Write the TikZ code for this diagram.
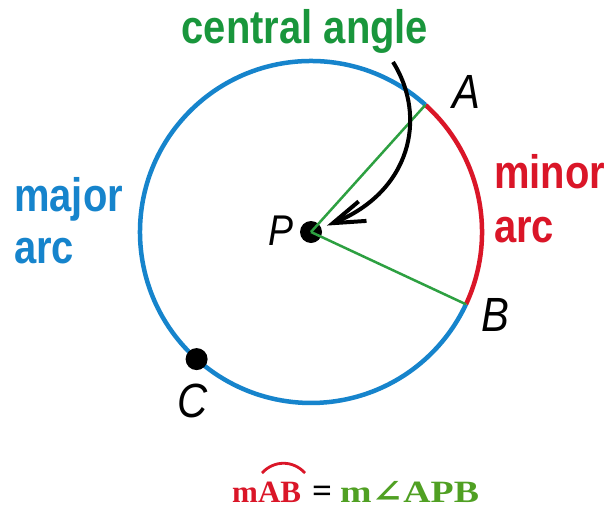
\documentclass[tikz,border=0pt]{standalone}
\usepackage{fontspec}
\usetikzlibrary{arrows.meta}
\newfontfamily\lblfont{Liberation Sans}[FakeStretch=0.85]
\newfontfamily\ptfont{Liberation Sans}[FakeStretch=0.87]
\newfontfamily\eqfont{Liberation Serif}
\newfontfamily\angfont{DejaVu Serif}
\definecolor{cblue}{RGB}{22,132,204}
\definecolor{cred}{RGB}{218,22,40}
\definecolor{cgreen}{RGB}{25,150,60}
\definecolor{lgreen}{RGB}{45,160,65}
\definecolor{egreen}{RGB}{80,160,35}
\tikzset{
  arcline/.style={line width=4.5pt},
  radius line/.style={draw=lgreen, line width=2.5pt},
  dotnode/.style={circle, fill=black, minimum size=22pt, inner sep=0pt},
  word/.style={font=\lblfont\bfseries\fontsize{47}{52}\selectfont, inner sep=0pt, anchor=base west},
  ptlabel/.style={font=\ptfont\itshape\fontsize{48}{52}\selectfont, inner sep=0pt, anchor=base},
  eq/.style={font=\eqfont\bfseries\fontsize{31}{34}\selectfont, inner sep=0pt, anchor=base west}
}
\begin{document}
\begin{tikzpicture}[x=1pt,y=-1pt]
\useasboundingbox (0,0) rectangle (610,509);
\fill[white] (0,0) rectangle (610,509);
% points on circle (centre 311,232; radius 171)
\coordinate (A) at (425.4,104.9);
\coordinate (B) at (466.0,304.3);
\coordinate (Cp) at (196.6,359.1);
% arcs
\draw[arcline, cred] (B) arc[start angle=-25, end angle=48, radius=171pt];
\draw[arcline, cblue] (A) arc[start angle=48, end angle=335, radius=171pt];
% centre and radii
\node[dotnode] (P) at (311,232) {};
\draw[radius line] (P.center) -- (A);
\draw[radius line] (P.center) -- (B);
\node[dotnode] (C) at (Cp) {};
% labels
\node[ptlabel] (lA) at (466,108) {A};
\node[ptlabel] (lB) at (495,331) {B};
\node[ptlabel] (lC) at (193,417) {C};
\node[ptlabel, font=\ptfont\itshape\fontsize{43}{48}\selectfont] (lP) at (281,245) {P};
% words
\node[word, cgreen, anchor=base] (central) at (305,43) {central angle};
\node[word, cblue] (major) at (14,211) {major};
\node[word, cblue] (marc) at (14,263) {arc};
\node[word, cred] (minor) at (494,188) {minor};
\node[word, cred] (minarc) at (494,242) {arc};
% arrow
\coordinate (arrstart) at (393,62);
\draw[line width=4pt, -{Straight Barb[length=32pt, width=21pt]}, shorten >=6pt]
  (arrstart) .. controls (428,118) and (410,192) .. (P);
% equation
\node[eq, cred] (mab) at (232,502) {mAB};
\draw[cred, line width=2.8pt] (262,473) .. controls (274,460) and (293,460) .. (305,473);
\node[eq, black, font=\eqfont\bfseries\fontsize{35}{38}\selectfont] (equals) at (312,502) {\smash{=}};
\node[eq, egreen] (mapb) at (340,502) {\scalebox{1.22}[1]{m{\angfont\bfseries ∠}APB}};
\end{tikzpicture}
\end{document}
